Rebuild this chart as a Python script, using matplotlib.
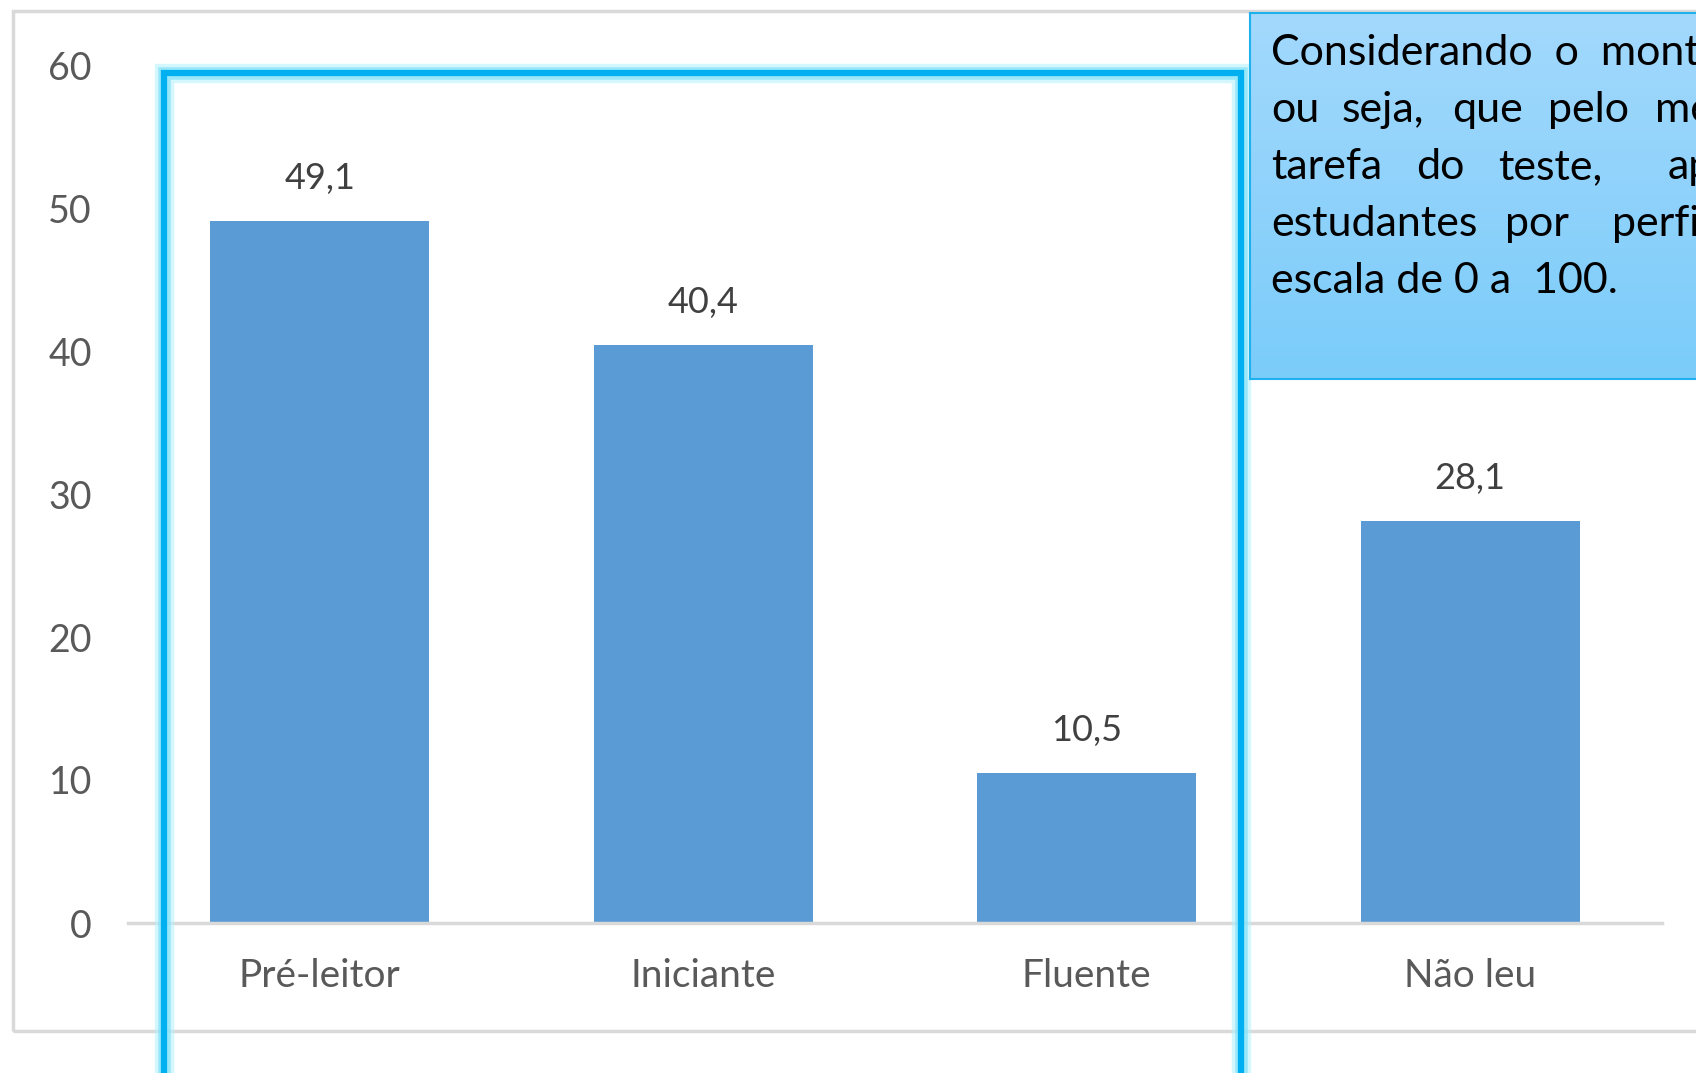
import numpy as np
import matplotlib
matplotlib.use('Agg')
import matplotlib.pyplot as plt
from matplotlib.patches import Rectangle

plt.rcParams['font.family'] = ['Lato', 'DejaVu Sans']

categories = ['Pré-leitor', 'Iniciante', 'Fluente', 'Não leu']
values = [49.1, 40.4, 10.5, 28.1]
y_ticks = [0, 10, 20, 30, 40, 50, 60]

note_lines = [
    ['Considerando  o  mont'],
    ['ou', 'seja,', 'que', 'pelo', 'me'],
    ['tarefa', 'do', 'teste,', 'ap'],
    ['estudantes', 'por', 'perfi'],
    ['escala de 0 a  100.'],
]

W, H = 1696, 1073
fig = plt.figure(figsize=(W / 100, H / 100), dpi=100)

def fx(px):
    return px / W

def fy(py):
    return 1 - py / H

# outer gray chart border
fig.patches.append(Rectangle((fx(13), fy(1031)), fx(1800), fy(11) - fy(1031),
                             transform=fig.transFigure, fill=False,
                             edgecolor='#d9d9d9', linewidth=2.5, zorder=0))

ax = fig.add_axes([fx(128), fy(923), fx(1662) - fx(128), fy(65) - fy(923)])
x = np.arange(len(categories))
ax.bar(x, values, width=0.57, color='#5b9bd5', zorder=2)
for xi, v in zip(x, values):
    ax.annotate(('%.1f' % v).replace('.', ','), (xi, v), xytext=(0, 23),
                textcoords='offset points', ha='center', va='baseline',
                fontsize=26, color='#404040')

ax.set_xlim(-0.5, len(categories) - 0.5)
ax.set_ylim(0, 60)
ax.set_yticks(y_ticks)
ax.set_xticks(x)
ax.set_xticklabels(categories)
ax.tick_params(axis='both', length=0, labelcolor='#595959')
ax.tick_params(axis='y', pad=26, labelsize=27)
ax.tick_params(axis='x', pad=25, labelsize=28)
for s in ['top', 'right', 'left']:
    ax.spines[s].set_visible(False)
ax.spines['bottom'].set_color('#d9d9d9')
ax.spines['bottom'].set_linewidth(2.5)
ax.patch.set_alpha(0)

# cyan highlight box with glow
for lw, col, a in [(14, '#b8f0fc', 0.6), (9, '#7fe3fa', 0.7), (4.5, '#00b0f0', 1.0)]:
    fig.patches.append(Rectangle((fx(164), fy(1120)), fx(1241) - fx(164), fy(73) - fy(1120),
                                 transform=fig.transFigure, fill=False,
                                 edgecolor=col, alpha=a, linewidth=lw, zorder=5))

# text box with vertical gradient
bx = fig.add_axes([fx(1250), fy(379), fx(1800) - fx(1250), fy(13) - fy(379)])
grad = np.linspace(0, 1, 256).reshape(-1, 1)
top = np.array([0.64, 0.85, 0.99])
bot = np.array([0.48, 0.80, 0.98])
img = top + (bot - top) * grad[..., None]
bx.imshow(img.reshape(256, 1, 3), aspect='auto', extent=[0, 1, 0, 1])
bx.set_xticks([])
bx.set_yticks([])
for s in bx.spines.values():
    s.set_color('#1fb1ee')
    s.set_linewidth(1.5)
bx.set_zorder(6)

word_x = [
    [1271],
    [1271, 1342, 1452, 1548, 1655],
    [1271, 1416, 1498, 1668],
    [1271, 1505, 1612],
    [1271],
]
for i, (words, xs) in enumerate(zip(note_lines, word_x)):
    yy = 65 + i * 57
    for w, xp in zip(words, xs):
        fig.text(fx(xp), fy(yy), w, ha='left', va='baseline', fontsize=31,
                 color='black', zorder=10)

fig.savefig('out.png', dpi=100)
